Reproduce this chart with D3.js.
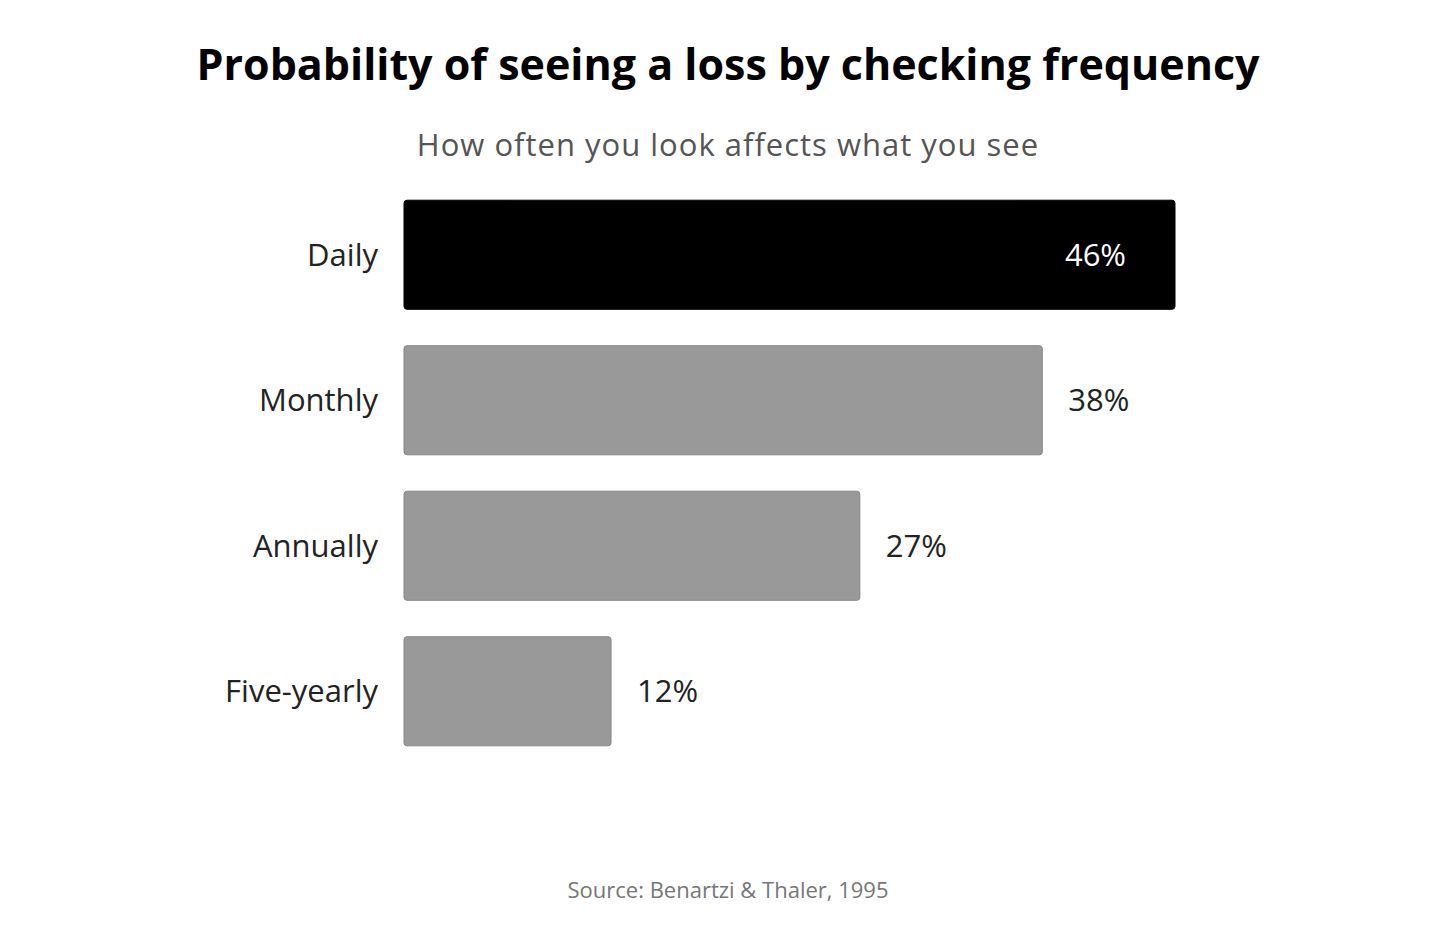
<!DOCTYPE html>
<html>
<head>
<meta charset="utf-8">
<script src="https://cdn.jsdelivr.net/npm/d3@7"></script>
<style>
  body { margin: 0; background: #fff; }
  text { font-family: "Open Sans", sans-serif; }
</style>
</head>
<body>
<svg id="chart" width="1456" height="946"></svg>
<script>
const categories = ["Daily", "Monthly", "Annually", "Five-yearly"];
const values = [46, 38, 27, 12];
const highlight = "Daily";

const svg = d3.select("#chart");
const barLeft = 404;

const x = d3.scaleLinear().domain([0, 46]).range([412, 1175]);
const y = d3.scaleBand().domain(categories).range([182, 764]).paddingInner(0.25).paddingOuter(0.125);

const data = categories.map((c, i) => ({ cat: c, val: values[i] }));

// bars
svg.selectAll("rect.bar")
    .data(data)
    .join("rect")
    .attr("class", "bar")
    .attr("x", barLeft)
    .attr("y", d => y(d.cat))
    .attr("width", d => x(d.val) - barLeft)
    .attr("height", y.bandwidth())
    .attr("rx", 3)
    .attr("fill", d => d.cat === highlight ? "#000" : "#999")
    .attr("stroke", d => d.cat === highlight ? "#000" : "#888")
    .attr("stroke-width", 1);

// category labels
svg.selectAll("text.cat")
    .data(data)
    .join("text")
    .attr("class", "cat")
    .attr("x", 378)
    .attr("y", d => y(d.cat) + y.bandwidth() / 2)
    .attr("dy", "0.35em")
    .attr("text-anchor", "end")
    .attr("font-size", 31)
    .attr("fill", "#222")
    .text(d => d.cat);

// value labels
svg.selectAll("text.val")
    .data(data)
    .join("text")
    .attr("class", "val")
    .attr("x", d => d.cat === highlight ? x(d.val) - 49 : x(d.val) + 26)
    .attr("y", d => y(d.cat) + y.bandwidth() / 2)
    .attr("dy", "0.35em")
    .attr("text-anchor", d => d.cat === highlight ? "end" : "start")
    .attr("font-size", 31)
    .attr("fill", d => d.cat === highlight ? "#fff" : "#222")
    .text(d => d.val + "%");

// titles
svg.append("text")
    .attr("x", 728).attr("y", 80)
    .attr("text-anchor", "middle")
    .attr("font-size", 43)
    .attr("font-weight", "bold")
    .attr("fill", "#000")
    .text("Probability of seeing a loss by checking frequency");

svg.append("text")
    .attr("x", 728).attr("y", 156)
    .attr("text-anchor", "middle")
    .attr("font-size", 31)
    .attr("letter-spacing", 1)
    .attr("fill", "#555")
    .text("How often you look affects what you see");

svg.append("text")
    .attr("x", 728).attr("y", 898)
    .attr("text-anchor", "middle")
    .attr("font-size", 22)
    .attr("fill", "#777")
    .text("Source: Benartzi & Thaler, 1995");
</script>
</body>
</html>
